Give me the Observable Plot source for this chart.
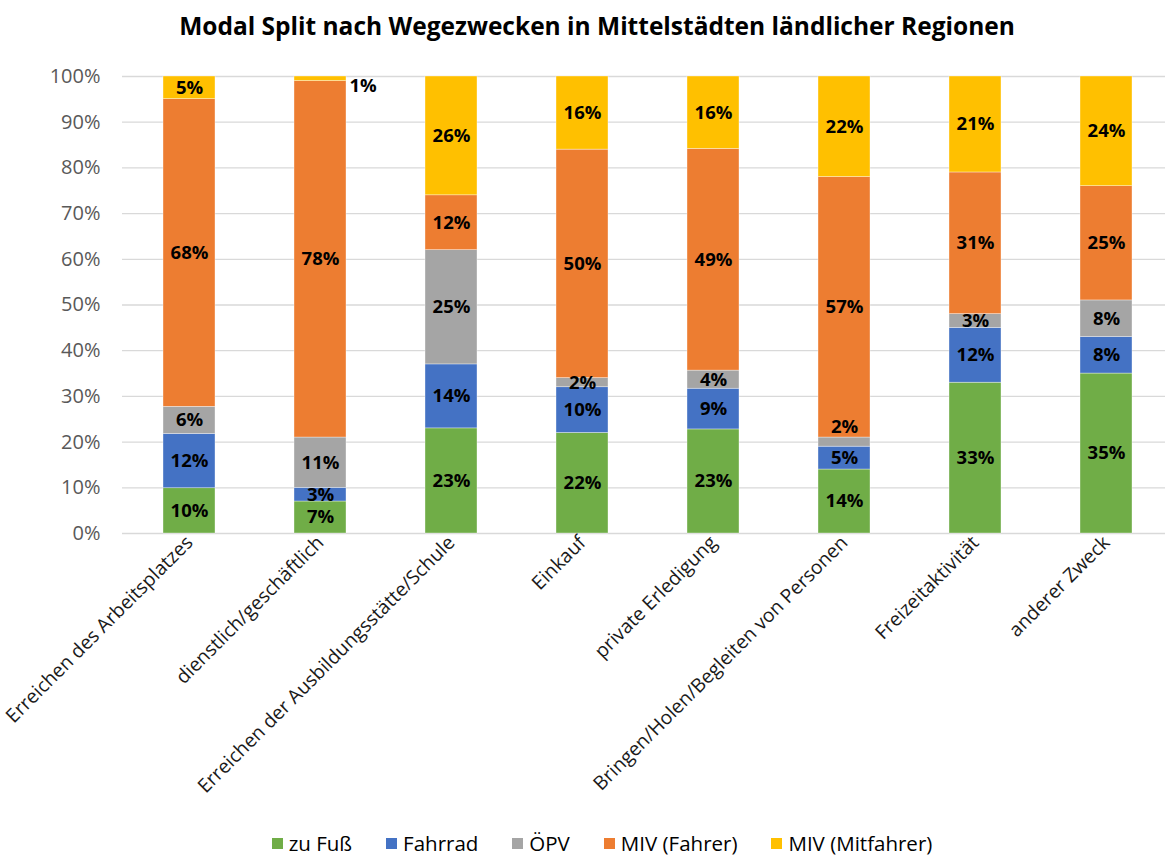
<!DOCTYPE html>
<html><head><meta charset="utf-8">
<script src="https://cdn.jsdelivr.net/npm/d3@7"></script>
<script src="https://cdn.jsdelivr.net/npm/@observablehq/plot@0.6"></script>
<style>
body{margin:0;background:#fff;font-family:"Open Sans",sans-serif;width:1168px;}
#title{height:52px;line-height:52px;text-align:center;font-weight:bold;font-size:24.5px;color:#000;padding-left:26px;box-sizing:border-box;white-space:nowrap;}
#legend{display:flex;justify-content:center;align-items:center;gap:34px;font-size:20.5px;color:#000;padding-left:36px;box-sizing:border-box;height:28px;}
#legend .item{display:flex;align-items:center;gap:6px;}
#legend .sw{width:11px;height:11px;display:inline-block;}
svg{display:block;}
</style></head><body>
<div id="title">Modal Split nach Wegezwecken in Mittelstädten ländlicher Regionen</div>
<div id="chart"></div>
<div id="legend"></div>
<script>
const categories = [
  "Erreichen des Arbeitsplatzes",
  "dienstlich/geschäftlich",
  "Erreichen der Ausbildungsstätte/Schule",
  "Einkauf",
  "private Erledigung",
  "Bringen/Holen/Begleiten von Personen",
  "Freizeitaktivität",
  "anderer Zweck"
];
const modes = ["zu Fuß", "Fahrrad", "ÖPV", "MIV (Fahrer)", "MIV (Mitfahrer)"];
const modeColors = ["#70AD47", "#4472C4", "#A5A5A5", "#ED7D31", "#FFC000"];
const zuFuss       = [10,  7, 23, 22, 23, 14, 33, 35];
const fahrrad      = [12,  3, 14, 10,  9,  5, 12,  8];
const oepv         = [ 6, 11, 25,  2,  4,  2,  3,  8];
const mivFahrer    = [68, 78, 12, 50, 49, 57, 31, 25];
const mivMitfahrer = [ 5,  1, 26, 16, 16, 22, 21, 24];
const yTicks = [0, 0.1, 0.2, 0.3, 0.4, 0.5, 0.6, 0.7, 0.8, 0.9, 1];

const seriesValues = [zuFuss, fahrrad, oepv, mivFahrer, mivMitfahrer];
const table = [];
modes.forEach((m, i) => categories.forEach((c, j) => table.push({category: c, mode: m, value: seriesValues[i][j]})));

// label placement tweaks (styling only)
const isRight = d => d.category === "dienstlich/geschäftlich" && d.mode === "MIV (Mitfahrer)";
const isAbove = d => d.category === "Bringen/Holen/Begleiten von Personen" && d.mode === "ÖPV";
const lab = d => d.value + "%";

const st = {x: "category", y: "value", z: "mode", offset: "normalize", order: modes};

const chart = Plot.plot({
  width: 1168,
  height: 777,
  marginLeft: 122,
  marginRight: 3,
  marginTop: 24,
  marginBottom: 296,
  style: {fontFamily: "Open Sans, sans-serif", background: "#fff"},
  x: {domain: categories, range: [122.3, 1173.6], paddingInner: 0.6, paddingOuter: 0.3, label: null},
  y: {domain: [0, 1], label: null},
  color: {domain: modes, range: modeColors},
  marks: [
    Plot.ruleY(yTicks, {stroke: "#D9D9D9", strokeWidth: 1.3}),
    Plot.axisY({ticks: yTicks, tickFormat: d3.format(".0%"), tickSize: 0, tickPadding: 22, fontSize: 20, fill: "#595959", label: null}),
    Plot.axisX({tickRotate: -45, tickSize: 0, tickPadding: 6, fontSize: 19.3, fill: "#1a1a1a", label: null}),
    Plot.barY(table, Plot.stackY({...st, fill: "mode", stroke: "#fff", strokeWidth: 0.6, strokeOpacity: 0.6})),
    Plot.text(table, Plot.stackY({...st, text: d => (isRight(d) || isAbove(d)) ? "" : lab(d), fontSize: 18.5, fontWeight: "bold", fill: "#000"})),
    Plot.text(table, Plot.stackY({...st, text: d => isRight(d) ? lab(d) : "", fontSize: 18.5, fontWeight: "bold", fill: "#000", textAnchor: "start", dx: 29, dy: 7})),
    Plot.text(table, Plot.stackY({...st, text: d => isAbove(d) ? lab(d) : "", fontSize: 18.5, fontWeight: "bold", fill: "#000", dy: -15}))
  ]
});
document.getElementById("chart").append(chart);

const legend = document.getElementById("legend");
modes.forEach((m, i) => {
  const it = document.createElement("span");
  it.className = "item";
  const sw = document.createElement("span");
  sw.className = "sw";
  sw.style.background = modeColors[i];
  const t = document.createElement("span");
  t.textContent = m;
  it.append(sw, t);
  legend.append(it);
});
</script>
</body></html>
